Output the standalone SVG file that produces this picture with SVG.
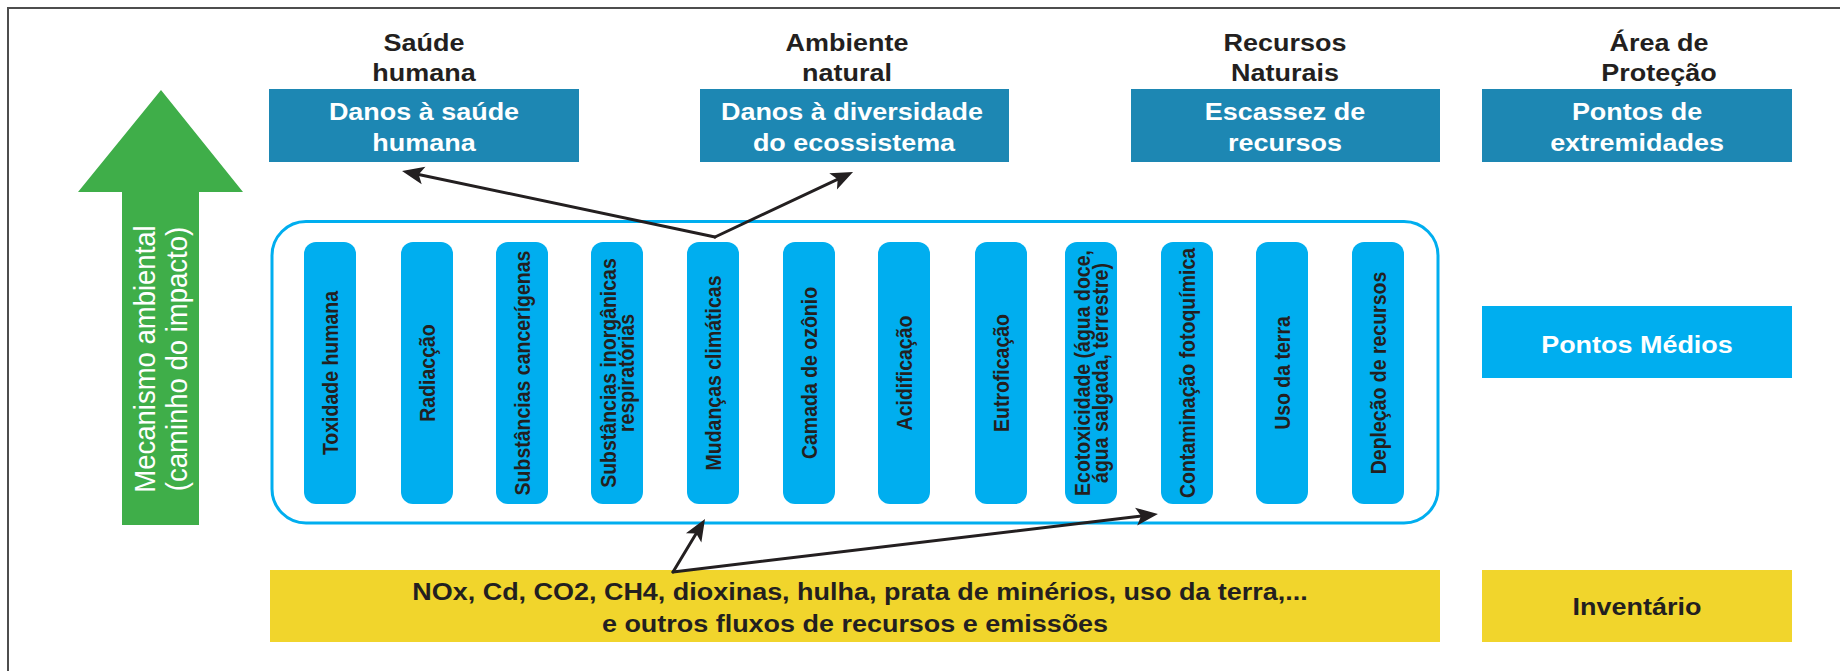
<svg xmlns="http://www.w3.org/2000/svg" width="1840" height="671" viewBox="0 0 1840 671">
  <style>
    .t { font-family: "Liberation Sans", Arial, sans-serif; font-weight: bold; font-size: 24.5px; text-anchor: middle; }
    .dark { fill: #231f20; }
    .white { fill: #ffffff; }
    .s { font-family: "Liberation Sans", Arial, sans-serif; font-weight: bold; font-size: 19.5px; text-anchor: middle; fill: #231f20; }
    .g { font-family: "Liberation Sans", Arial, sans-serif; font-size: 27.5px; text-anchor: middle; fill: #ffffff; }
    .endbox { fill: #1d87b3; }
    .stem { fill: #00aeef; }
    .mid { fill: #00aeef; }
    .inv { fill: #f1d52c; }
    .conn { stroke: #231f20; stroke-width: 3; fill: none; stroke-linecap: round; marker-end: url(#ah); }
  </style>
  <defs>
    <marker id="ah" markerUnits="userSpaceOnUse" viewBox="-18 -10 26 20" markerWidth="26" markerHeight="20" refX="0" refY="0" orient="auto">
      <path d="M6,0 L-16,-9 L-11,0 L-16,9 Z" fill="#231f20"/>
    </marker>
  </defs>

  <rect width="1840" height="671" fill="#ffffff"/>
  <!-- frame (top and left edges) -->
  <path d="M8,671 L8,8 L1840,8" fill="none" stroke="#4d4d4d" stroke-width="2"/>

  <!-- green arrow -->
  <g id="mecanismo">
    <polygon points="161,90 243,192 199,192 199,525 122,525 122,192 78,192" fill="#3fae49"/>
    <text class="g" transform="translate(155,359) scale(1.1,1) rotate(-90)">Mecanismo ambiental</text>
    <text class="g" transform="translate(187,359) scale(1.1,1) rotate(-90)">(caminho do impacto)</text>
  </g>

  <!-- column titles -->
  <g id="titulo-saude">
    <text class="t dark" transform="translate(424,51) scale(1.1,1)">Saúde</text>
    <text class="t dark" transform="translate(424,81) scale(1.1,1)">humana</text>
  </g>
  <g id="titulo-ambiente">
    <text class="t dark" transform="translate(847,51) scale(1.1,1)">Ambiente</text>
    <text class="t dark" transform="translate(847,81) scale(1.1,1)">natural</text>
  </g>
  <g id="titulo-recursos">
    <text class="t dark" transform="translate(1285,51) scale(1.1,1)">Recursos</text>
    <text class="t dark" transform="translate(1285,81) scale(1.1,1)">Naturais</text>
  </g>
  <g id="titulo-area">
    <text class="t dark" transform="translate(1659,51) scale(1.1,1)">Área de</text>
    <text class="t dark" transform="translate(1659,81) scale(1.1,1)">Proteção</text>
  </g>

  <!-- endpoint boxes -->
  <g id="danos-saude">
    <rect class="endbox" x="269" y="89" width="310" height="73"/>
    <text class="t white" transform="translate(424,120) scale(1.1,1)">Danos à saúde</text>
    <text class="t white" transform="translate(424,151) scale(1.1,1)">humana</text>
  </g>
  <g id="danos-diversidade">
    <rect class="endbox" x="700" y="89" width="309" height="73"/>
    <text class="t white" transform="translate(852,120) scale(1.1,1)">Danos à diversidade</text>
    <text class="t white" transform="translate(854,151) scale(1.1,1)">do ecossistema</text>
  </g>
  <g id="escassez">
    <rect class="endbox" x="1131" y="89" width="309" height="73"/>
    <text class="t white" transform="translate(1285,120) scale(1.1,1)">Escassez de</text>
    <text class="t white" transform="translate(1285,151) scale(1.1,1)">recursos</text>
  </g>
  <g id="pontos-extremidades">
    <rect class="endbox" x="1482" y="89" width="310" height="73"/>
    <text class="t white" transform="translate(1637,120) scale(1.1,1)">Pontos de</text>
    <text class="t white" transform="translate(1637,151) scale(1.1,1)">extremidades</text>
  </g>

  <!-- midpoint container -->
  <g id="categorias">
    <rect x="272" y="221.5" width="1166" height="301.5" rx="34" ry="34" fill="none" stroke="#00aeef" stroke-width="3"/>
    <g id="toxidade">
      <rect class="stem" x="304" y="242" width="52" height="262" rx="12"/>
      <text class="s" transform="translate(338,373) scale(1.1,1) rotate(-90)">Toxidade humana</text>
    </g>
    <g id="radiacao">
      <rect class="stem" x="401" y="242" width="52" height="262" rx="12"/>
      <text class="s" transform="translate(435,373) scale(1.1,1) rotate(-90)">Radiacção</text>
    </g>
    <g id="cancerigenas">
      <rect class="stem" x="496" y="242" width="52" height="262" rx="12"/>
      <text class="s" transform="translate(530,373) scale(1.1,1) rotate(-90)">Substâncias cancerígenas</text>
    </g>
    <g id="inorganicas">
      <rect class="stem" x="591" y="242" width="52" height="262" rx="12"/>
      <text class="s" transform="translate(615.5,373) scale(1.1,1) rotate(-90)">Substâncias inorgânicas</text>
      <text class="s" transform="translate(634,373) scale(1.1,1) rotate(-90)">respiratórias</text>
    </g>
    <g id="mudancas">
      <rect class="stem" x="687" y="242" width="52" height="262" rx="12"/>
      <text class="s" transform="translate(721,373) scale(1.1,1) rotate(-90)">Mudanças climáticas</text>
    </g>
    <g id="ozonio">
      <rect class="stem" x="783" y="242" width="52" height="262" rx="12"/>
      <text class="s" transform="translate(817,373) scale(1.1,1) rotate(-90)">Camada de ozônio</text>
    </g>
    <g id="acidificacao">
      <rect class="stem" x="878" y="242" width="52" height="262" rx="12"/>
      <text class="s" transform="translate(912,373) scale(1.1,1) rotate(-90)">Acidificação</text>
    </g>
    <g id="eutrofizacao">
      <rect class="stem" x="975" y="242" width="52" height="262" rx="12"/>
      <text class="s" transform="translate(1009,373) scale(1.1,1) rotate(-90)">Eutroficação</text>
    </g>
    <g id="ecotoxicidade">
      <rect class="stem" x="1065" y="242" width="52" height="262" rx="12"/>
      <text class="s" transform="translate(1090,373) scale(1.1,1) rotate(-90)">Ecotoxicidade (água doce,</text>
      <text class="s" transform="translate(1108,373) scale(1.1,1) rotate(-90)">água salgada, terrestre)</text>
    </g>
    <g id="fotoquimica">
      <rect class="stem" x="1161" y="242" width="52" height="262" rx="12"/>
      <text class="s" transform="translate(1195,373) scale(1.1,1) rotate(-90)">Contaminação fotoquímica</text>
    </g>
    <g id="uso-terra">
      <rect class="stem" x="1256" y="242" width="52" height="262" rx="12"/>
      <text class="s" transform="translate(1290,373) scale(1.1,1) rotate(-90)">Uso da terra</text>
    </g>
    <g id="deplecao">
      <rect class="stem" x="1352" y="242" width="52" height="262" rx="12"/>
      <text class="s" transform="translate(1386,373) scale(1.1,1) rotate(-90)">Depleção de recursos</text>
    </g>
  </g>

  <g id="pontos-medios">
    <rect class="mid" x="1482" y="306" width="310" height="72"/>
    <text class="t white" transform="translate(1637,353) scale(1.1,1)">Pontos Médios</text>
  </g>

  <!-- inventory -->
  <g id="fluxos">
    <rect class="inv" x="270" y="570" width="1170" height="72"/>
    <text class="t dark" transform="translate(860,600) scale(1.1,1)">NOx, Cd, CO2, CH4, dioxinas, hulha, prata de minérios, uso da terra,...</text>
    <text class="t dark" transform="translate(855,632) scale(1.1,1)">e outros fluxos de recursos e emissões</text>
  </g>
  <g id="inventario">
    <rect class="inv" x="1482" y="570" width="310" height="72"/>
    <text class="t dark" transform="translate(1637,615) scale(1.1,1)">Inventário</text>
  </g>

  <!-- connectors -->
  <g id="connectors">
    <line class="conn" x1="715" y1="237" x2="407.9" y2="172.2"/>
    <line class="conn" x1="715" y1="237" x2="847.6" y2="174.6"/>
    <line class="conn" x1="673" y1="572" x2="701.9" y2="524.1"/>
    <line class="conn" x1="673" y1="572" x2="1152" y2="514.7"/>
  </g>
</svg>
